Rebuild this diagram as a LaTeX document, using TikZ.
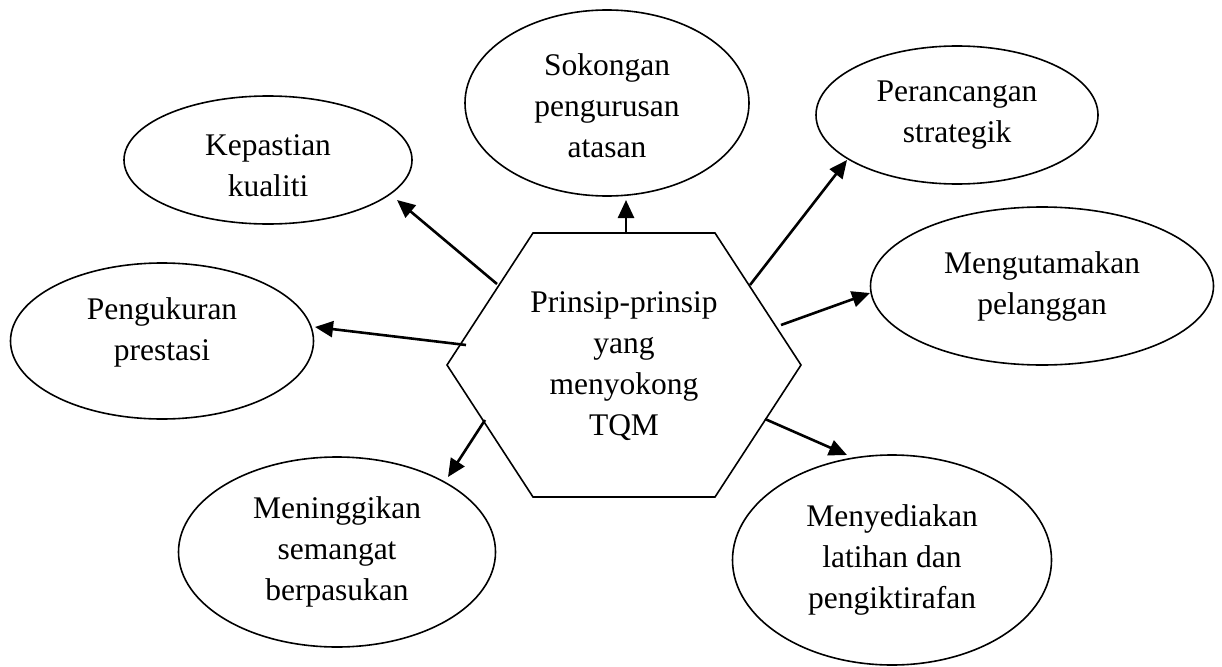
\documentclass[tikz,border=0pt]{standalone}
\usepackage{fontspec}
\setmainfont{Liberation Serif}
\usetikzlibrary{arrows.meta,shapes.geometric}
\begin{document}
\begin{tikzpicture}[x=1pt,y=-1pt,
  txt/.style={font=\fontsize{31.5}{41}\selectfont, align=center, inner sep=0pt},
  ell/.style={ellipse, draw, line width=1.6pt, txt},
  arr/.style={line width=2.6pt, -{Triangle[length=18pt,width=16pt]}},
  hexline/.style={line width=1.6pt, line join=miter}]
\useasboundingbox (0,0) rectangle (1222,666);
% ellipses
\node[ell, minimum width=284pt, minimum height=186pt] (sok) at (607,103) {\rule{0pt}{28pt}Sokongan\\pengurusan\\atasan};
\node[ell, minimum width=288pt, minimum height=128pt] (kep) at (268,160) {\rule{0pt}{32pt}Kepastian\\kualiti};
\node[ell, minimum width=282pt, minimum height=138pt] (per) at (957,115) {Perancangan\\strategik};
\node[ell, minimum width=343pt, minimum height=158pt] (mgu) at (1042,286) {Mengutamakan\\pelanggan};
\node[ell, minimum width=303pt, minimum height=156pt] (pen) at (162,341) {Pengukuran\\prestasi\rule[-23pt]{0pt}{1pt}};
\node[ell, minimum width=317pt, minimum height=190pt] (mng) at (337,552) {Meninggikan\\semangat\\berpasukan};
\node[ell, minimum width=319pt, minimum height=210pt] (mny) at (892,560) {Menyediakan\\latihan dan\\pengiktirafan};
% hexagon
\coordinate (h1) at (447,365);
\coordinate (h2) at (533,233);
\coordinate (h3) at (715,233);
\coordinate (h4) at (801,365);
\coordinate (h5) at (715,497);
\coordinate (h6) at (533,497);
\draw[hexline] (h1) -- (h2) -- (h3) -- (h4) -- (h5) -- (h6) -- cycle;
\node[txt] (hex) at (624,366) {Prinsip-prinsip\\yang\\menyokong\\TQM};
% arrow ends
\coordinate (s_sok) at (626,233);  \coordinate (t_sok) at (626,200);
\coordinate (s_kep) at (497,284);  \coordinate (t_kep) at (397,200);
\coordinate (s_pen) at (466,345);  \coordinate (t_pen) at (315,327);
\coordinate (s_mng) at (485,420);  \coordinate (t_mng) at (448,477);
\coordinate (s_per) at (750,285);  \coordinate (t_per) at (847,160);
\coordinate (s_mgu) at (781,325);  \coordinate (t_mgu) at (870,293);
\coordinate (s_mny) at (765,419);  \coordinate (t_mny) at (847,455);
\draw[arr] (s_sok) -- (t_sok);
\draw[arr] (s_kep) -- (t_kep);
\draw[arr] (s_pen) -- (t_pen);
\draw[arr] (s_mng) -- (t_mng);
\draw[arr] (s_per) -- (t_per);
\draw[arr] (s_mgu) -- (t_mgu);
\draw[arr] (s_mny) -- (t_mny);
\end{tikzpicture}
\end{document}
